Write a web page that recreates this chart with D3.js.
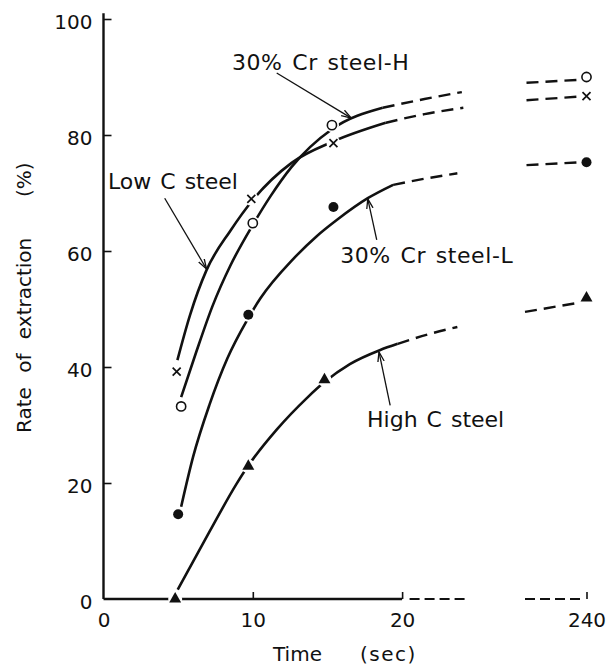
<!DOCTYPE html>
<html lang="en">
<head>
<meta charset="UTF-8">
<title>Rate of extraction</title>
<script src="https://d3js.org/d3.v7.min.js"></script>
<style>
    body { margin: 0; background: #fff; }
    svg text { font-family: 'DejaVu Sans', sans-serif; fill: #111; }
    .tick text { font-size: 20px; }
    .lbl { font-size: 22px; word-spacing: 2px; }
    .ttl { font-size: 20px; }
</style>
</head>
<body>
<div id="grafico"></div>
<script>
    // measured points: [time (sec), rate of extraction (%)]
    const lowCPts  = [[4.9, 39.2], [9.9, 69.0], [15.4, 78.6], [240, 86.7]]
    const crHPts   = [[5.2, 33.2], [10.0, 64.8], [15.3, 81.7], [240, 90.0]]
    const crLPts   = [[5.0, 14.6], [9.7, 49.0], [15.4, 67.6], [240, 75.3]]
    const highCPts = [[4.8, 0], [9.7, 22.9], [14.8, 37.8], [240, 51.9]]

    // fitted curves (solid part)
    const lowCFit  = [[4.95, 41.2], [5.8, 49.0], [6.9, 56.7], [8.5, 63.5], [10.0, 68.8], [12.6, 75.2], [15.4, 78.9], [18.9, 82.1]]
    const crHFit   = [[5.2, 34.8], [6.2, 42.5], [7.3, 50.5], [8.5, 57.5], [10.0, 64.5], [11.2, 69.5], [12.6, 74.5], [15.3, 81.0], [18.7, 84.7]]
    const crLFit   = [[5.2, 15.9], [6.0, 24.5], [7.1, 33.5], [8.3, 41.5], [9.6, 48.0], [10.5, 51.8], [12.7, 58.6], [14.3, 62.6], [15.6, 65.3], [17.7, 69.1], [19.4, 71.4]]
    const highCFit = [[4.97, 1.6], [7.1, 11.6], [8.9, 19.8], [9.7, 23.0], [11.6, 29.2], [13.6, 34.6], [14.8, 37.4], [16.5, 40.5], [18.5, 42.9], [19.7, 44.0]]

    // dashed extensions after ~20 sec
    const lowCExt  = [[18.9, 82.1], [21.5, 83.6], [24.1, 84.7]]
    const crHExt   = [[18.7, 84.7], [21.5, 86.2], [24.0, 87.4]]
    const crLExt   = [[19.4, 71.4], [21.6, 72.5], [23.7, 73.4]]
    const highCExt = [[19.7, 44.0], [21.7, 45.6], [23.7, 46.9]]

    // dashed lead-in to the 240 sec values
    const lowCEnd  = [[236.0, 86.0], [239.4, 86.6]]
    const crHEnd   = [[236.0, 89.0], [239.4, 89.5]]
    const crLEnd   = [[236.0, 74.8], [239.6, 75.3]]
    const highCEnd = [[235.9, 49.5], [239.3, 51.0]]

    const names   = ['Low C steel', '30% Cr steel-H', '30% Cr steel-L', 'High C steel']
    const symbols = ['cross', 'ring', 'dot', 'triangle']
    const pts  = [lowCPts, crHPts, crLPts, highCPts]
    const fits = [lowCFit, crHFit, crLFit, highCFit]
    const exts = [lowCExt, crHExt, crLExt, highCExt]
    const ends = [lowCEnd, crHEnd, crLEnd, highCEnd]

    const yTicks = [0, 20, 40, 60, 80, 100]
    const xTicks = [0, 10, 20, 240]
    const xBreaks = [[20.5, 24.3], [235.9, 239.8]]

    // label anchor, arrow tail, arrow head (data units)
    const noteAt   = [[0.3, 70.7], [8.6, 91.2], [15.85, 57.9], [17.65, 29.7]]
    const noteFrom = [[4.1, 69.1], [11.6, 90.7], [18.3, 61.9], [19.2, 33.4]]
    const noteTo   = [[6.9, 56.9], [16.6, 82.9], [17.7, 69.0], [18.45, 42.6]]

    const W = 608, H = 668

    var svg = d3.select('#grafico')
        .append('svg')
        .attr('width', W)
        .attr('height', H)

    const x = d3.scaleLinear().domain([0, 24.5, 235.5, 240]).range([103.5, 469.3, 519, 586.5])
    const y = d3.scaleLinear().domain([0, 100]).range([599, 19])

    // y axis
    const gy = svg.append('g')
        .attr('transform', `translate(${x(0)},0)`)
        .call(d3.axisLeft(y).tickValues(yTicks).tickSizeInner(-8).tickSizeOuter(0).tickPadding(11))
    gy.select('.domain').remove()
    gy.selectAll('.tick line').attr('stroke', '#111').attr('stroke-width', 1.6)
    gy.selectAll('.tick text').attr('dy', '0.45em')
    gy.selectAll('.tick').filter(d => d === 0).select('line').remove()

    svg.append('line')
        .attr('x1', x(0)).attr('x2', x(0))
        .attr('y1', y(0)).attr('y2', y(101))
        .attr('stroke', '#111').attr('stroke-width', 2.4)

    // x axis
    const gx = svg.append('g')
        .attr('transform', `translate(0,${y(0)})`)
        .call(d3.axisBottom(x).tickValues(xTicks).tickSizeInner(-7).tickSizeOuter(0).tickPadding(14))
    gx.select('.domain').remove()
    gx.selectAll('.tick line').attr('stroke', '#111').attr('stroke-width', 1.6)
    gx.selectAll('.tick').filter(d => d === 0).select('line').remove()

    svg.append('line')
        .attr('x1', x(0)).attr('x2', x(20))
        .attr('y1', y(0)).attr('y2', y(0))
        .attr('stroke', '#111').attr('stroke-width', 2.4)

    svg.selectAll('line.brk')
        .data(xBreaks)
        .enter()
        .append('line')
        .attr('class', 'brk')
        .attr('x1', d => x(d[0])).attr('x2', d => x(d[1]))
        .attr('y1', y(0)).attr('y2', y(0))
        .attr('stroke', '#111').attr('stroke-width', 2.2)
        .attr('stroke-dasharray', '10,5')

    // axis titles
    svg.append('text').attr('class', 'ttl')
        .attr('transform', 'translate(31,433) rotate(-90)')
        .style('word-spacing', '8px')
        .text('Rate of extraction')
    svg.append('text').attr('class', 'ttl')
        .attr('transform', 'translate(31,197) rotate(-90)')
        .text('(%)')
    svg.append('text').attr('class', 'ttl').attr('x', 273).attr('y', 661).text('Time')
    svg.append('text').attr('class', 'ttl').attr('x', 360).attr('y', 661)
        .style('letter-spacing', '1.5px').text('(sec)')

    // curves
    const line = d3.line()
        .x(d => x(d[0]))
        .y(d => y(d[1]))
        .curve(d3.curveMonotoneX)

    svg.selectAll('path.fit')
        .data(fits)
        .enter()
        .append('path')
        .attr('class', 'fit')
        .attr('d', d => line(d))
        .attr('fill', 'none').attr('stroke', '#111').attr('stroke-width', 2.6)

    svg.selectAll('path.ext')
        .data(exts.concat(ends))
        .enter()
        .append('path')
        .attr('class', 'ext')
        .attr('d', d => line(d))
        .attr('fill', 'none').attr('stroke', '#111').attr('stroke-width', 2.4)
        .attr('stroke-dasharray', '12,7')

    // markers, with a white gap round each one
    pts.forEach((p, i) => {
        const g = svg.append('g').attr('class', 'series').attr('data-name', names[i])
        g.selectAll('circle.halo')
            .data(p)
            .enter()
            .append('circle')
            .attr('class', 'halo')
            .attr('cx', d => x(d[0])).attr('cy', d => y(d[1]))
            .attr('r', 7).attr('fill', '#fff')

        const m = g.selectAll('g.mk')
            .data(p)
            .enter()
            .append('g')
            .attr('class', 'mk')
            .attr('transform', d => `translate(${x(d[0])},${y(d[1])})`)

        if (symbols[i] === 'cross') {
            m.append('path').attr('d', 'M-4,-4L4,4M-4,4L4,-4')
                .attr('stroke', '#111').attr('stroke-width', 1.7)
        } else if (symbols[i] === 'ring') {
            m.append('circle').attr('r', 4.6)
                .attr('fill', '#fff').attr('stroke', '#111').attr('stroke-width', 1.6)
        } else if (symbols[i] === 'dot') {
            m.append('circle').attr('r', 5).attr('fill', '#111')
        } else {
            m.append('path').attr('d', d3.symbol(d3.symbolTriangle, 62)).attr('fill', '#111')
        }
    })

    // annotations
    svg.append('defs').append('marker')
        .attr('id', 'ah')
        .attr('viewBox', '0 0 10 10')
        .attr('refX', 10).attr('refY', 5)
        .attr('markerWidth', 10).attr('markerHeight', 10)
        .attr('markerUnits', 'userSpaceOnUse')
        .attr('orient', 'auto')
        .append('path')
        .attr('d', 'M0,1.8L10,5L0,8.2')
        .attr('fill', 'none').attr('stroke', '#111').attr('stroke-width', 1.3)

    svg.selectAll('line.arrow')
        .data(names)
        .enter()
        .append('line')
        .attr('class', 'arrow')
        .attr('x1', (d, i) => x(noteFrom[i][0])).attr('y1', (d, i) => y(noteFrom[i][1]))
        .attr('x2', (d, i) => x(noteTo[i][0])).attr('y2', (d, i) => y(noteTo[i][1]))
        .attr('stroke', '#111').attr('stroke-width', 1.3)
        .attr('marker-end', 'url(#ah)')

    svg.selectAll('text.lbl')
        .data(names)
        .enter()
        .append('text')
        .attr('class', 'lbl')
        .attr('x', (d, i) => x(noteAt[i][0]))
        .attr('y', (d, i) => y(noteAt[i][1]))
        .style('letter-spacing', d => d.startsWith('30%') ? '0.6px' : null)
        .text(d => d)
</script>
</body>
</html>
